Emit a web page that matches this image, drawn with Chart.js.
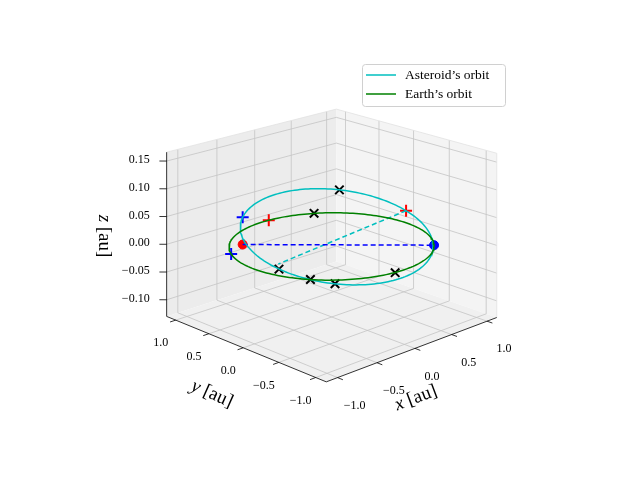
<!DOCTYPE html><html><head><meta charset="utf-8">
<script src="https://cdn.jsdelivr.net/npm/chart.js@4"></script>
<style>html,body{margin:0;padding:0;background:#fff}</style></head><body>
<canvas id="c" width="640" height="480"></canvas>
<script>
// ---- data ----
const xTicks = [-1.0,-0.5,0.0,0.5,1.0];
const yTicks = [-1.0,-0.5,0.0,0.5,1.0];
const zTicks = [-0.10,-0.05,0.00,0.05,0.10,0.15];
const xLim = [-1.14,1.14], yLim = [-1.14,1.14], zLim = [-0.13,0.166];
const earthRadius = [1.0];
// asteroid orbit: centre/semi-axes in the (x-y)/√2, (x+y)/√2 frame, plane tilt
const asteroidU = [0.05,0.94], asteroidV = [0.0,0.97], asteroidPlane = [-0.0198,0.0273,0.0195];
const blackX = [[0.72,0.65,0.045],[0.544,0.841,0],[-0.905,-0.24,0.0067],[-0.785,-0.545,-0.0028],[-0.643,-0.728,-0.008],[-0.12,-0.997,0]];
const bluePlus = [[-0.523,0.721,0.041],[-0.877,0.481,0]];
const redPlus = [[0.064,0.997,0],[0.99,-0.042,0.0233]];
const redDot = [[-0.615,0.615,0]];
const blueDot = [[0.707,-0.707,0]];
const blueDash = [[-0.615,0.615,0],[0.707,-0.707,0]];
const cyanDash = [[0.99,-0.042,0.0233],[-0.742,-0.049,0]];
const legendLabels = ["Asteroid\u2019s orbit","Earth\u2019s orbit"];

// ---- projection (mild perspective) ----
const P=(x,y,z)=>{const ox=76.5*x-72*y, oy=10-24*x-24.5*y-574*z;
 const d=(x/xLim[1]+y/yLim[1])/2, f=1/(1+0.078*d);
 return {x:332+ox*f, y:235+oy*f};};
const Pa=a=>P(a[0],a[1],a[2]);
const N=200;
const earth=[],ast=[];
for(let i=0;i<=N;i++){const t=2*Math.PI*i/N;
 earth.push(P(earthRadius[0]*Math.cos(t),earthRadius[0]*Math.sin(t),0));
 const u=asteroidU[0]+asteroidU[1]*Math.cos(t), v=asteroidV[0]+asteroidV[1]*Math.sin(t);
 const z=asteroidPlane[0]*u+asteroidPlane[1]*v+asteroidPlane[2];
 ast.push(P((u+v)/Math.SQRT2,(v-u)/Math.SQRT2,z));}

const serif='"Liberation Serif","DejaVu Serif",serif';
const bg={id:'bg',beforeDatasetsDraw(ch){
 const c=ch.ctx,sx=ch.scales.x,sy=ch.scales.y;
 const px=p=>[sx.getPixelForValue(p.x),sy.getPixelForValue(p.y)];
 const poly=(pts,fill)=>{c.beginPath();pts.forEach((p,i)=>{const q=px(p);i?c.lineTo(q[0],q[1]):c.moveTo(q[0],q[1]);});c.closePath();c.fillStyle=fill;c.fill();};
 const line=(a,b,col,w)=>{const p=px(a),q=px(b);c.beginPath();c.moveTo(p[0],p[1]);c.lineTo(q[0],q[1]);c.strokeStyle=col;c.lineWidth=w;c.stroke();};
 const [x0,x1]=xLim,[y0,y1]=yLim,[z0,z1]=zLim;
 c.save();
 poly([P(x0,y1,z0),P(x1,y1,z0),P(x1,y1,z1),P(x0,y1,z1)],'#ececec');
 poly([P(x1,y0,z0),P(x1,y1,z0),P(x1,y1,z1),P(x1,y0,z1)],'#f4f4f4');
 poly([P(x0,y0,z0),P(x1,y0,z0),P(x1,y1,z0),P(x0,y1,z0)],'#f0f0f0');
 const g='#c4c4c4';
 xTicks.forEach(t=>{line(P(t,y0,z0),P(t,y1,z0),g,0.8);line(P(t,y1,z0),P(t,y1,z1),g,0.8);});
 yTicks.forEach(t=>{line(P(x0,t,z0),P(x1,t,z0),g,0.8);line(P(x1,t,z0),P(x1,t,z1),g,0.8);});
 zTicks.forEach(t=>{line(P(x0,y1,t),P(x1,y1,t),g,0.8);line(P(x1,y1,t),P(x1,y0,t),g,0.8);});
 const e='#e2e2e2';
 line(P(x0,y1,z1),P(x1,y1,z1),e,0.8);line(P(x1,y1,z1),P(x1,y0,z1),e,0.8);line(P(x1,y0,z0),P(x1,y0,z1),e,0.8);
 line(P(x0,y0,z0),P(x1,y0,z0),'#000',0.8);
 line(P(x0,y0,z0),P(x0,y1,z0),'#000',0.8);
 line(P(x0,y1,z0),P(x0,y1,z1),'#000',0.8);
 c.fillStyle='#000';c.font='12px '+serif;c.textBaseline='middle';
 const fmt=(v,d)=>(v<0?'\u2212':'')+Math.abs(v).toFixed(d);
 xTicks.forEach(t=>{line(P(t,y0,z0),P(t,y0-0.07,z0),'#000',0.8);const q=px(P(t,y0,z0));c.textAlign='center';c.fillStyle='#000';c.fillText(fmt(t,1),q[0]+17,q[1]+28);});
 yTicks.forEach(t=>{line(P(x0,t,z0),P(x0-0.07,t,z0),'#000',0.8);const q=px(P(x0,t,z0));c.textAlign='center';c.fillStyle='#000';c.fillText(fmt(t,1),q[0]-15,q[1]+23);});
 zTicks.forEach(t=>{line(P(x0,y1,t),P(x0-0.05,y1+0.05,t),'#000',0.8);const q=px(P(x0,y1,t));c.textAlign='right';c.fillStyle='#000';c.fillText(fmt(t,2),q[0]-17,q[1]-1);});
 const lab=(txt,x,y,r)=>{c.save();c.translate(x,y);c.rotate(r);c.fillStyle='#000';c.font='italic 19px '+serif;const w1=c.measureText(txt[0]).width;c.font='19px '+serif;const w2=c.measureText(txt[1]).width;let s=-(w1+w2)/2;c.textAlign='left';c.font='italic 19px '+serif;c.fillText(txt[0],s,0);c.font='19px '+serif;c.fillText(txt[1],s+w1,0);c.restore();};
 lab(['x',' [au]'],416,398,-0.36);
 lab(['y',' [au]'],212,394,0.42);
 lab(['z',' [au]'],104,236,Math.PI/2);
 c.fillStyle='rgba(255,255,255,0.85)';c.strokeStyle='#d0d0d0';c.lineWidth=1;
 c.beginPath();c.roundRect(362.5,64.5,143,42,3);c.fill();c.stroke();
 [['#00bfbf',75],['#008000',94]].forEach((d,i)=>{c.beginPath();c.moveTo(366,d[1]);c.lineTo(396,d[1]);c.strokeStyle=d[0];c.lineWidth=1.5;c.stroke();
  c.fillStyle='#000';c.font='13.5px '+serif;c.textAlign='left';c.fillText(legendLabels[i],405,d[1]);});
 c.restore();}};

const pts=a=>a.map(Pa);
new Chart(document.getElementById('c'),{type:'scatter',
 data:{datasets:[
  {data:earth,showLine:true,borderColor:'#008000',borderWidth:1.5,pointRadius:0},
  {data:ast,showLine:true,borderColor:'#00bfbf',borderWidth:1.5,pointRadius:0},
  {data:pts(blueDash),showLine:true,borderColor:'#0000ff',borderWidth:1.5,borderDash:[5,3],pointRadius:0},
  {data:pts(cyanDash),showLine:true,borderColor:'#00bfbf',borderWidth:1.5,borderDash:[5,3],pointRadius:0},
  {data:pts(blackX),pointStyle:'crossRot',pointRadius:6,borderColor:'#000',borderWidth:2},
  {data:pts(bluePlus),pointStyle:'cross',pointRadius:6,borderColor:'#0000ff',borderWidth:2},
  {data:pts(redPlus),pointStyle:'cross',pointRadius:6,borderColor:'#ff0000',borderWidth:2},
  {data:pts(redDot),pointRadius:4.5,backgroundColor:'#ff0000',borderColor:'#ff0000'},
  {data:pts(blueDot),pointRadius:4.5,backgroundColor:'#0000ff',borderColor:'#0000ff'}]},
 options:{responsive:false,animation:false,layout:{padding:0},
  plugins:{legend:{display:false},tooltip:{enabled:false}},
  scales:{x:{type:'linear',min:0,max:640,display:false},y:{type:'linear',min:0,max:480,reverse:true,display:false}}},
 plugins:[bg]});
</script></body></html>
